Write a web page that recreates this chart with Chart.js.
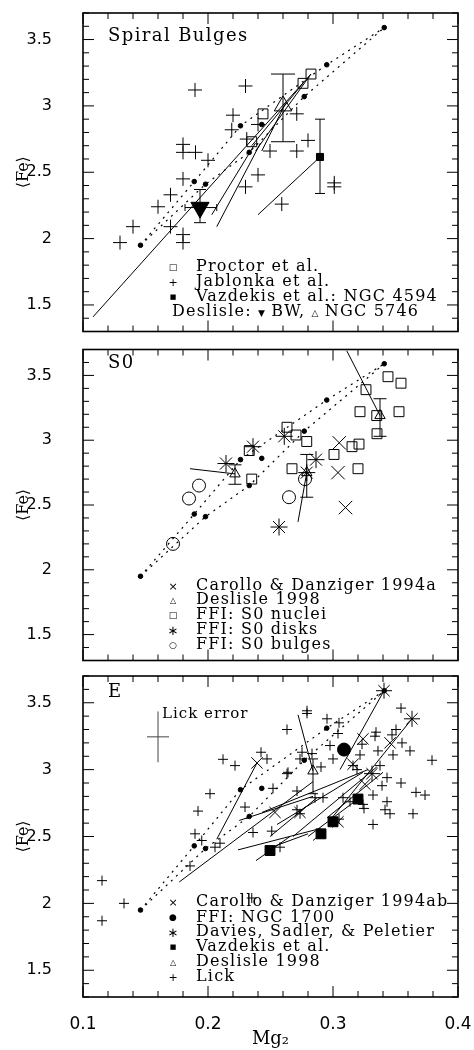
<!DOCTYPE html>
<html>
<head>
<meta charset="utf-8">
<script src="https://cdn.jsdelivr.net/npm/chart.js@4.4.1/dist/chart.umd.min.js"></script>
<style>
body{margin:0;background:#fff;width:474px;height:1050px;position:relative;overflow:hidden}
canvas{position:absolute;left:0}
.t{position:absolute;font-family:"DejaVu Serif";font-size:16px;line-height:16px;letter-spacing:1.2px;color:#000;white-space:nowrap}
.big{font-size:18px;line-height:18px;letter-spacing:1.4px}
.s{position:absolute;left:163px;width:20px;height:12px;display:flex;align-items:center;justify-content:center;font-family:"DejaVu Sans";color:#000}
.m{font-family:"DejaVu Sans";font-size:9px;letter-spacing:0}
</style>
</head>
<body>
<canvas id="pBulge" width="474" height="343" style="top:0"></canvas>
<canvas id="pS0" width="474" height="332" style="top:339px"></canvas>
<canvas id="pE" width="474" height="383" style="top:667px"></canvas>

<!-- labels top panel -->
<div class="t big" style="left:108px;top:26px">Spiral Bulges</div>
<div class="s" style="top:261px;font-size:9px">□</div><div class="t" style="left:196px;top:258px">Proctor et al.</div>
<div class="s" style="top:276px;font-size:11px">+</div><div class="t" style="left:196px;top:273px">Jablonka et al.</div>
<div class="s" style="top:291px;font-size:7px">■</div><div class="t" style="left:196px;top:288px">Vazdekis et al.: NGC 4594</div>
<div class="t" style="left:172px;top:303px">Deslisle: <span class="m">▼</span> BW, <span class="m">△</span> NGC 5746</div>

<!-- labels middle panel -->
<div class="t big" style="left:108px;top:353px">S0</div>
<div class="s" style="top:580px;font-size:11px">×</div><div class="t" style="left:196px;top:577px">Carollo &amp; Danziger 1994a</div>
<div class="s" style="top:594px;font-size:8px">△</div><div class="t" style="left:196px;top:591px">Deslisle 1998</div>
<div class="s" style="top:609px;font-size:9px">□</div><div class="t" style="left:196px;top:606px">FFI: S0 nuclei</div>
<div class="s" style="top:624px;font-size:13px">∗</div><div class="t" style="left:196px;top:621px">FFI: S0 disks</div>
<div class="s" style="top:639px;font-size:9px">○</div><div class="t" style="left:196px;top:636px">FFI: S0 bulges</div>

<!-- labels bottom panel -->
<div class="t big" style="left:108px;top:682px">E</div>
<div class="t" style="left:162px;top:705px;font-size:15px;letter-spacing:1px">Lick error</div>
<div class="s" style="top:896px;font-size:11px">×</div><div class="t" style="left:196px;top:893px">Carollo &amp; Danziger 1994ab</div>
<div class="s" style="top:911px;font-size:9px">●</div><div class="t" style="left:196px;top:909px">FFI: NGC 1700</div>
<div class="s" style="top:926px;font-size:13px">∗</div><div class="t" style="left:196px;top:923px">Davies, Sadler, &amp; Peletier</div>
<div class="s" style="top:941px;font-size:7px">■</div><div class="t" style="left:196px;top:938px">Vazdekis et al.</div>
<div class="s" style="top:956px;font-size:8px">△</div><div class="t" style="left:196px;top:953px">Deslisle 1998</div>
<div class="s" style="top:971px;font-size:11px">+</div><div class="t" style="left:196px;top:968px">Lick</div>

<script>
//?Ejes y ticks
const xTicks = [0.1, 0.2, 0.3, 0.4]
const yTicks = [1.5, 2, 2.5, 3, 3.5]

//*Rejilla de modelos (igual en los tres paneles)
const modelDots = [[0.146,1.95],[0.189,2.43],[0.198,2.41],[0.226,2.85],[0.233,2.65],[0.243,2.86],[0.277,3.07],[0.295,3.31],[0.341,3.59]]
const modelLineA = [[0.146,1.95],[0.189,2.43],[0.226,2.85],[0.295,3.31],[0.341,3.59]]
const modelLineB = [[0.146,1.95],[0.198,2.41],[0.233,2.65],[0.277,3.07],[0.341,3.59]]

//*Spiral bulges
const proctor = [[0.2824,3.24],[0.276,3.17],[0.244,2.94],[0.235,2.73]]
const jablonka = [[0.1896,3.12],[0.230,3.15],[0.220,2.93],[0.219,2.82],[0.180,2.71],[0.180,2.65],[0.190,2.65],[0.200,2.59],
  [0.180,2.45],[0.170,2.33],[0.160,2.24],[0.170,2.09],[0.180,2.03],[0.180,1.97],[0.1296,1.97],[0.140,2.09],[0.240,2.48],
  [0.230,2.39],[0.259,2.26],[0.2496,2.66],[0.271,2.66],[0.280,2.74],[0.271,2.94],[0.301,2.42],[0.301,2.39],[0.240,2.86],[0.231,2.75]]
const vazdekis4594 = [[0.2896,2.615]]
const deslisleBW = [[0.1936,2.234]]
const deslisle5746 = [[0.260,3.00]]
const bulgeGradients = [
  [0.108,1.41,0.2824,3.24],[0.235,2.70,0.276,3.17],[0.238,2.66,0.2824,3.24],[0.243,2.66,0.262,3.02],
  [0.203,2.18,0.238,2.72],[0.207,2.09,0.242,2.72],[0.240,2.18,0.2896,2.615]
]
const bulgeErrors = [
  {x:0.260, y:3.00, ylo:2.73, yhi:3.24, cap:12},
  {x:0.2896, y:2.615, ylo:2.34, yhi:2.90, cap:5},
  {x:0.1936, y:2.234, ylo:2.12, yhi:2.37, cap:6, xlo:0.1816, xhi:0.207, xcap:3.5}
]

//*S0
const carolloS0 = [[0.305,2.98],[0.304,2.75],[0.310,2.48]]
const deslisleS0 = [[0.3376,3.19],[0.2216,2.74],[0.279,2.75]]
const s0Nuclei = [[0.344,3.49],[0.3544,3.44],[0.3264,3.39],[0.3216,3.22],[0.3528,3.22],[0.335,3.19],[0.3352,3.05],[0.3208,2.97],
  [0.3152,2.95],[0.3008,2.89],[0.320,2.78],[0.2672,2.78],[0.2632,3.10],[0.2704,3.04],[0.279,2.99],[0.235,2.70],[0.233,2.92]]
const s0Disks = [[0.2144,2.82],[0.236,2.95],[0.261,3.03],[0.2864,2.85],[0.279,2.75],[0.2568,2.33]]
const s0Bulges = [[0.1928,2.65],[0.1848,2.55],[0.172,2.20],[0.2648,2.56],[0.2776,2.70]]
const s0Gradients = [[0.311,3.69,0.3376,3.19],[0.1856,2.78,0.2216,2.74],[0.279,2.75,0.272,2.37]]
const s0Errors = [
  {x:0.3376, y:3.19, ylo:3.03, yhi:3.32, cap:6.5},
  {x:0.2216, y:2.74, ylo:2.66, yhi:2.81, cap:6.5},
  {x:0.279, y:2.75, ylo:2.56, yhi:2.89, cap:6.5}
]

//*Ellipticals
const lick = [[0.212,3.077],[0.2216,3.03],[0.2424,3.13],[0.2472,3.08],[0.2632,3.30],[0.2632,2.97],[0.252,2.86],[0.2016,2.82],
  [0.2296,2.72],[0.192,2.69],[0.236,2.53],[0.251,2.54],[0.1896,2.52],[0.2792,3.44],[0.2792,3.42],[0.2952,3.38],[0.3048,3.35],
  [0.304,3.27],[0.3544,3.46],[0.3504,3.30],[0.3472,3.26],[0.3344,3.28],[0.3336,3.25],[0.3552,3.20],[0.3616,3.14],[0.3792,3.07],
  [0.2976,3.18],[0.3232,3.19],[0.3216,3.11],[0.336,3.14],[0.348,3.11],[0.300,3.08],[0.2752,3.13],[0.2832,3.12],[0.2736,3.08],
  [0.264,2.98],[0.316,3.03],[0.3192,3.00],[0.3376,3.03],[0.3432,2.94],[0.3392,2.88],[0.3544,2.90],[0.2904,3.02],[0.292,2.79],
  [0.2712,2.84],[0.308,2.79],[0.332,2.81],[0.3664,2.83],[0.3736,2.81],[0.324,2.74],[0.3136,2.76],[0.3248,2.71],[0.3432,2.76],
  [0.3416,2.70],[0.3456,2.67],[0.364,2.67],[0.332,2.59],[0.3048,2.63],[0.2736,2.67],[0.2712,2.70],[0.2856,2.79],
  [0.1152,2.17],[0.1152,1.87],[0.1328,2.00],[0.1856,2.28],[0.195,2.47],[0.2056,2.42],[0.2096,2.45],[0.2576,2.42],[0.235,2.04]]
const carolloE = [[0.2392,3.05],[0.2536,2.68],[0.324,3.23],[0.3456,3.20],[0.316,3.04],[0.3256,2.89],[0.2736,2.68],[0.304,2.61]]
const daviesE = [[0.3408,3.59],[0.3632,3.38],[0.3312,2.97]]
const ngc1700 = [[0.3088,3.15]]
const vazdekisE = [[0.320,2.78],[0.300,2.61],[0.2904,2.52],[0.2496,2.395]]
const deslisleE = [[0.284,2.99]]
const eGradients = [
  [0.3408,3.59,0.3056,3.00],[0.3632,3.38,0.2992,2.64],[0.272,3.41,0.284,2.99],[0.2392,3.05,0.207,2.48],
  [0.177,2.16,0.284,2.91],[0.2432,2.68,0.328,3.00],[0.2552,2.59,0.324,2.98],[0.2496,2.50,0.2872,2.79],
  [0.268,2.50,0.335,3.02],[0.2952,2.64,0.340,2.98],[0.224,2.40,0.290,2.56],[0.2384,2.32,0.2656,2.50],
  [0.251,2.42,0.280,2.52],[0.225,2.62,0.284,2.80],[0.280,2.50,0.320,2.78],[0.284,2.47,0.2904,2.52]
]
const eErrors = [
  {x:0.284, y:2.99, ylo:2.82, yhi:3.08, cap:5},
  {x:0.16, y:3.245, ylo:3.055, yhi:3.435, cap:0, xlo:0.1512, xhi:0.1688, xcap:0, color:'#444'}
]

//Funciones para armar los datasets
const pts = arr => arr.map(([x, y]) => ({x, y}))
const marks = (arr, style, r, fill, extra) => ({
  data: pts(arr), pointStyle: style, pointRadius: r, pointBorderColor: '#000', pointBorderWidth: 1,
  pointBackgroundColor: fill ? '#000' : 'rgba(0,0,0,0)', showLine: false, ...extra
})
const segs = list => list.map(s => ({
  data: [{x: s[0], y: s[1]}, {x: s[2], y: s[3]}], showLine: true, borderColor: '#000', borderWidth: 1, pointRadius: 0
}))
const modelGrid = () => [
  {data: pts(modelLineA), showLine: true, borderColor: '#000', borderWidth: 1.2, borderDash: [2, 5], pointRadius: 0},
  {data: pts(modelLineB), showLine: true, borderColor: '#000', borderWidth: 1.2, borderDash: [2, 5], pointRadius: 0},
  marks(modelDots, 'circle', 2.3, true)
]

//!Plugin: marco y ticks hacia dentro
const frameTicks = {
  id: 'frameTicks',
  afterDraw(chart) {
    const {ctx, chartArea: a, scales: {x, y}} = chart
    ctx.save()
    ctx.strokeStyle = '#000'
    ctx.lineWidth = 1
    ctx.beginPath()
    for (let i = 0; i <= 15; i++) {
      const px = x.getPixelForValue(0.1 + i * 0.02)
      const len = i % 5 === 0 ? 11 : 6
      ctx.moveTo(px, a.bottom); ctx.lineTo(px, a.bottom - len)
      ctx.moveTo(px, a.top); ctx.lineTo(px, a.top + len)
    }
    for (let i = 0; i <= 24; i++) {
      const v = 1.3 + i * 0.1
      const py = y.getPixelForValue(v)
      const len = Math.abs(v * 2 - Math.round(v * 2)) < 0.01 ? 11 : 6
      ctx.moveTo(a.left, py); ctx.lineTo(a.left + len, py)
      ctx.moveTo(a.right, py); ctx.lineTo(a.right - len, py)
    }
    ctx.stroke()
    ctx.lineWidth = 1.6
    ctx.strokeRect(a.left, a.top, a.right - a.left, a.bottom - a.top)
    ctx.restore()
  }
}

//!Plugin: barras de error
const errorBars = {
  id: 'errorBars',
  afterDatasetsDraw(chart, args, opts) {
    const {ctx, scales: {x, y}} = chart
    ctx.save()
    ctx.lineWidth = 1
    ;(opts.bars || []).forEach(b => {
      ctx.strokeStyle = b.color || '#000'
      const px = x.getPixelForValue(b.x), py = y.getPixelForValue(b.y)
      ctx.beginPath()
      if (b.ylo !== undefined) {
        const p1 = y.getPixelForValue(b.ylo), p2 = y.getPixelForValue(b.yhi)
        ctx.moveTo(px, p1); ctx.lineTo(px, p2)
        if (b.cap) {
          ctx.moveTo(px - b.cap, p1); ctx.lineTo(px + b.cap, p1)
          ctx.moveTo(px - b.cap, p2); ctx.lineTo(px + b.cap, p2)
        }
      }
      if (b.xlo !== undefined) {
        const q1 = x.getPixelForValue(b.xlo), q2 = x.getPixelForValue(b.xhi)
        ctx.moveTo(q1, py); ctx.lineTo(q2, py)
        if (b.xcap) {
          ctx.moveTo(q1, py - b.xcap); ctx.lineTo(q1, py + b.xcap)
          ctx.moveTo(q2, py - b.xcap); ctx.lineTo(q2, py + b.xcap)
        }
      }
      ctx.stroke()
    })
    ctx.restore()
  }
}

//Funcion que crea cada panel
const makePanel = (id, datasets, bars, showX, padTop, padBottom) => new Chart(document.getElementById(id), {
  type: 'scatter',
  data: {datasets},
  options: {
    responsive: false,
    animation: false,
    events: [],
    layout: {padding: {top: padTop, right: 16, bottom: padBottom, left: 0}},
    plugins: {legend: {display: false}, tooltip: {enabled: false}, errorBars: {bars}},
    scales: {
      x: {
        type: 'linear', min: 0.1, max: 0.4, display: showX,
        grid: {display: false}, border: {display: false},
        afterBuildTicks: s => { s.ticks = xTicks.map(v => ({value: v})) },
        afterFit: s => {
          s.height = showX ? 53 : 0
          s.paddingLeft = 0; s.paddingRight = 0
        },
        ticks: {autoSkip: false, maxRotation: 0, padding: 9, color: '#000', font: {family: 'DejaVu Sans', size: 17},
          callback: v => String(v)},
        title: {display: true, text: 'Mg₂', color: '#000', font: {family: 'DejaVu Serif', size: 18}, padding: {top: 0, bottom: 0}}
      },
      y: {
        type: 'linear', min: 1.3, max: 3.7,
        grid: {display: false}, border: {display: false},
        afterBuildTicks: s => { s.ticks = yTicks.map(v => ({value: v})) },
        afterFit: s => {
          s.width = 83
          s.paddingTop = 0; s.paddingBottom = 0
        },
        ticks: {autoSkip: false, padding: 23, color: '#000', font: {family: 'DejaVu Sans', size: 16},
          callback: v => String(v)},
        title: {display: true, text: '⟨Fe⟩', color: '#000', font: {family: 'DejaVu Serif', size: 16}, padding: {top: 14, bottom: 0}}
      }
    }
  },
  plugins: [frameTicks, errorBars]
})

makePanel('pBulge', [
  ...modelGrid(),
  ...segs(bulgeGradients),
  marks(proctor, 'rect', 7, false),
  marks(jablonka, 'cross', 7, false),
  marks(vazdekis4594, 'rect', 5, true),
  marks(deslisleBW, 'triangle', 10.5, true, {pointRotation: 180}),
  marks(deslisle5746, 'triangle', 10, false)
], bulgeErrors, false, 13, 2)

makePanel('pS0', [
  ...modelGrid(),
  ...segs(s0Gradients),
  marks(carolloS0, 'crossRot', 9.5, false),
  marks(deslisleS0, 'triangle', 6, false),
  marks(s0Nuclei, 'rect', 7, false),
  marks(s0Disks, 'star', 8.5, false),
  marks(s0Bulges, 'circle', 6.5, false)
], s0Errors, false, 2, 2)

makePanel('pE', [
  ...modelGrid(),
  ...segs(eGradients),
  marks(lick, 'cross', 5, false),
  marks(carolloE, 'crossRot', 8, false),
  marks(daviesE, 'star', 8, false),
  marks(ngc1700, 'circle', 6.5, true),
  marks(vazdekisE, 'rect', 7, true),
  marks(deslisleE, 'triangle', 6, false)
], eErrors, true, 2, 0)
</script>
</body>
</html>
